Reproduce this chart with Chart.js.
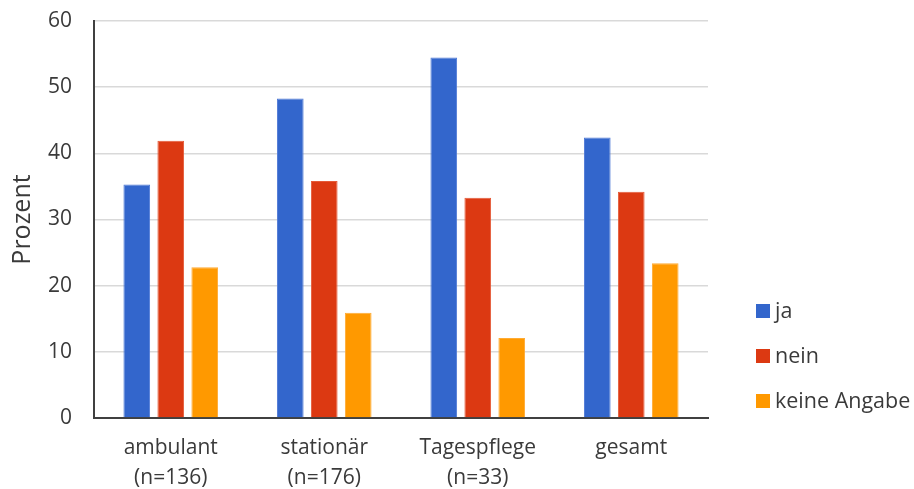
<!DOCTYPE html>
<html lang="de">
<head>
<meta charset="utf-8">
<title>Prozent nach Versorgungsart</title>
<script src="https://cdn.jsdelivr.net/npm/chart.js@4.4.1/dist/chart.umd.min.js"></script>
<style>
    html, body { margin: 0; padding: 0; background: #fff; }
    #wrap { position: relative; width: 914px; height: 489px; }
</style>
</head>
<body>
<div id="wrap"><canvas id="chart"></canvas></div>
<script>
const categories = [['ambulant', '(n=136)'], ['stationär', '(n=176)'], ['Tagespflege', '(n=33)'], ['gesamt']];
const seriesNames = ['ja', 'nein', 'keine Angabe'];
const jaValues = [35.3, 48.3, 54.5, 42.4];
const neinValues = [41.9, 35.8, 33.3, 34.2];
const keineValues = [22.8, 15.9, 12.1, 23.4];
const yTicks = [0, 10, 20, 30, 40, 50, 60];

const colors = ['#3366cc', '#dc3912', '#ff9900'];
const edgeColors = ['#4f7ad6', '#e55a38', '#ffab33'];
const textColor = '#3a3a3a';
const fontFamily = '"Open Sans", "Liberation Sans", sans-serif';

// legend on the right, drawn next to the plot
const sideLegend = {
    id: 'sideLegend',
    afterDraw(chart) {
        const ctx = chart.ctx;
        ctx.save();
        ctx.font = '21.5px ' + fontFamily;
        ctx.textBaseline = 'middle';
        chart.data.datasets.forEach((ds, i) => {
            const y = 311 + i * 45;
            ctx.fillStyle = ds.backgroundColor;
            ctx.fillRect(756, y - 7, 14, 14);
            ctx.fillStyle = textColor;
            ctx.fillText(ds.label, 775, y + 1);
        });
        ctx.restore();
    }
};

const values = [jaValues, neinValues, keineValues];

new Chart(document.getElementById('chart'), {
    type: 'bar',
    data: {
        labels: categories,
        datasets: seriesNames.map((name, i) => ({
            label: name,
            data: values[i],
            backgroundColor: colors[i],
            borderColor: edgeColors[i],
            borderWidth: 1,
            categoryPercentage: 0.664,
            barPercentage: 0.785
        }))
    },
    options: {
        responsive: true,
        maintainAspectRatio: false,
        animation: false,
        layout: { padding: { top: 21, right: 206, left: 0, bottom: 0 } },
        plugins: {
            legend: { display: false },
            tooltip: { enabled: false }
        },
        scales: {
            x: {
                grid: { display: false, drawTicks: false },
                border: { display: true, color: '#404040', width: 2 },
                ticks: {
                    color: textColor,
                    font: { size: 21, family: fontFamily, lineHeight: 1.42 },
                    padding: 15,
                    maxRotation: 0
                },
                afterFit(scale) { scale.height = 71; }
            },
            y: {
                min: 0,
                max: 60,
                afterBuildTicks(scale) { scale.ticks = yTicks.map(v => ({ value: v })); },
                grid: { color: '#d9d9d9', lineWidth: 1.5, drawTicks: false },
                border: { display: true, color: '#404040', width: 2 },
                ticks: {
                    color: textColor,
                    font: { size: 21, family: fontFamily },
                    padding: 22
                },
                title: {
                    display: true,
                    text: 'Prozent',
                    color: textColor,
                    font: { size: 25, family: fontFamily },
                    padding: { top: 8, bottom: 0 }
                },
                afterFit(scale) {
                    scale.width = 94;
                    scale.paddingTop = 0;
                    scale.paddingBottom = 0;
                }
            }
        }
    },
    plugins: [sideLegend]
});
</script>
</body>
</html>
